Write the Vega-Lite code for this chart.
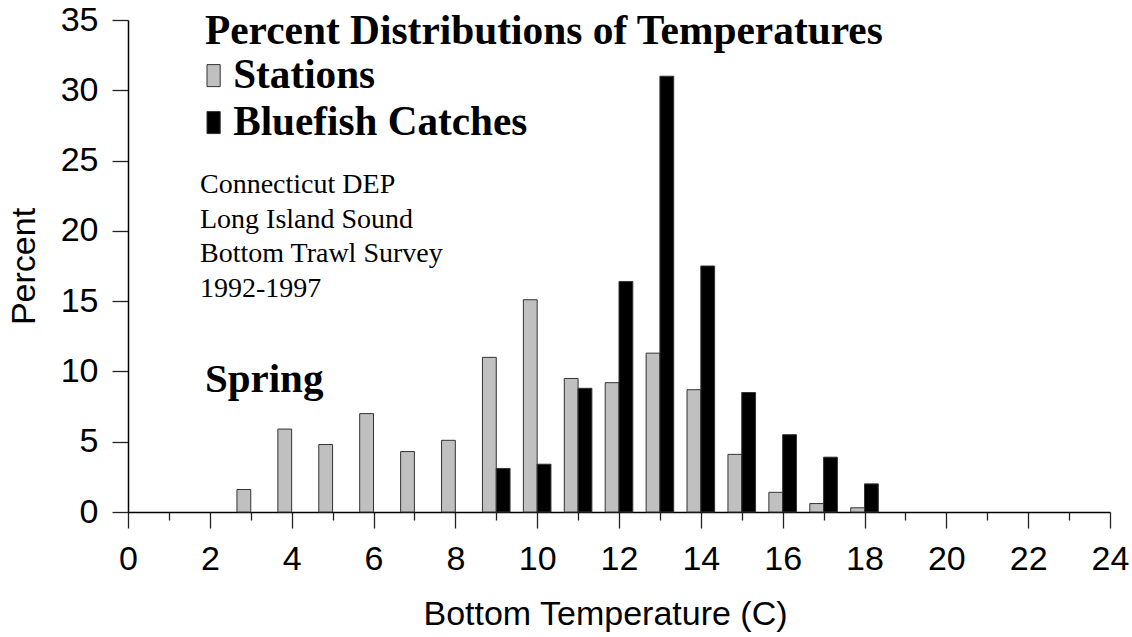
{
  "$schema": "https://vega.github.io/schema/vega-lite/v6.json",
  "width": 982,
  "height": 492,
  "autosize": {"type": "none"},
  "padding": {"left": 128, "top": 20, "right": 22, "bottom": 125},
  "background": "white",
  "config": {
    "view": {"stroke": null},
    "axis": {
      "grid": false,
      "domainColor": "#000000",
      "domainWidth": 1.5,
      "tickColor": "#222222",
      "tickWidth": 1.3,
      "labelFont": "Liberation Sans",
      "titleFont": "Liberation Sans",
      "labelColor": "#000000",
      "titleColor": "#000000",
      "labelFontSize": 34,
      "titleFontSize": 34,
      "titleFontWeight": "normal"
    }
  },
  "resolve": {"axis": {"x": "independent"}},
  "data": {
    "values": [
      {"temp": 3, "series": "Stations", "percent": 1.6},
      {"temp": 4, "series": "Stations", "percent": 5.9},
      {"temp": 5, "series": "Stations", "percent": 4.8},
      {"temp": 6, "series": "Stations", "percent": 7.0},
      {"temp": 7, "series": "Stations", "percent": 4.3},
      {"temp": 8, "series": "Stations", "percent": 5.1},
      {"temp": 9, "series": "Stations", "percent": 11.0},
      {"temp": 10, "series": "Stations", "percent": 15.1},
      {"temp": 11, "series": "Stations", "percent": 9.5},
      {"temp": 12, "series": "Stations", "percent": 9.2},
      {"temp": 13, "series": "Stations", "percent": 11.3},
      {"temp": 14, "series": "Stations", "percent": 8.7},
      {"temp": 15, "series": "Stations", "percent": 4.1},
      {"temp": 16, "series": "Stations", "percent": 1.4},
      {"temp": 17, "series": "Stations", "percent": 0.6},
      {"temp": 18, "series": "Stations", "percent": 0.3},
      {"temp": 9, "series": "Bluefish Catches", "percent": 3.1},
      {"temp": 10, "series": "Bluefish Catches", "percent": 3.4},
      {"temp": 11, "series": "Bluefish Catches", "percent": 8.8},
      {"temp": 12, "series": "Bluefish Catches", "percent": 16.4},
      {"temp": 13, "series": "Bluefish Catches", "percent": 31.0},
      {"temp": 14, "series": "Bluefish Catches", "percent": 17.5},
      {"temp": 15, "series": "Bluefish Catches", "percent": 8.5},
      {"temp": 16, "series": "Bluefish Catches", "percent": 5.5},
      {"temp": 17, "series": "Bluefish Catches", "percent": 3.9},
      {"temp": 18, "series": "Bluefish Catches", "percent": 2.0}
    ]
  },
  "layer": [
    {
      "transform": [{"filter": "datum.series === 'Stations'"}],
      "mark": {"type": "bar", "orient": "vertical", "width": 13.8, "xOffset": -6.9, "stroke": "#333333", "strokeWidth": 1},
      "encoding": {
        "x": {
          "field": "temp", "type": "quantitative",
          "scale": {"domain": [0, 24], "nice": false, "zero": false, "padding": 0},
          "axis": {
            "orient": "bottom",
            "values": [0, 2, 4, 6, 8, 10, 12, 14, 16, 18, 20, 22, 24],
            "tickSize": 16,
            "labelPadding": 14,
            "labelFlush": false,
            "labelOverlap": false,
            "title": "Bottom Temperature (C)",
            "titleX": 477,
            "titleAlign": "center",
            "titlePadding": 21
          }
        },
        "y": {
          "field": "percent", "type": "quantitative",
          "scale": {"domain": [0, 35], "nice": false, "padding": 0},
          "axis": {
            "values": [0, 5, 10, 15, 20, 25, 30, 35],
            "tickSize": 16,
            "labelPadding": 14,
            "labelFlush": false,
            "labelOverlap": false,
            "title": "Percent",
            "titlePadding": 19
          }
        },
        "color": {
          "datum": "Stations",
          "scale": {"domain": ["Stations", "Bluefish Catches"], "range": ["#c0c0c0", "#000000"]},
          "legend": {
            "orient": "none",
            "legendX": 65,
            "legendY": 35,
            "title": null,
            "symbolType": "M-0.6,-1H0.6V1H-0.6Z",
            "symbolSize": 484,
            "symbolStrokeColor": "#333333",
            "symbolStrokeWidth": 1,
            "labelFont": "Liberation Serif",
            "labelFontSize": 41.2,
            "labelFontWeight": "bold",
            "labelColor": "#000000",
            "labelOffset": -1,
            "rowPadding": 5,
            "labelLimit": 600
          }
        }
      }
    },
    {
      "transform": [{"filter": "datum.series === 'Bluefish Catches'"}],
      "mark": {"type": "bar", "orient": "vertical", "width": 13.8, "xOffset": 6.9, "stroke": "#333333", "strokeWidth": 1},
      "encoding": {
        "x": {"field": "temp", "type": "quantitative", "axis": null},
        "y": {"field": "percent", "type": "quantitative"},
        "color": {"datum": "Bluefish Catches"}
      }
    },
    {
      "data": {"values": [{"label": "Percent Distributions of Temperatures"}]},
      "mark": {"type": "text", "font": "Liberation Serif", "fontSize": 41.4, "fontWeight": "bold", "align": "left", "baseline": "alphabetic", "color": "#000000"},
      "encoding": {
        "x": {"datum": 1.88, "axis": null},
        "y": {"datum": 33.29},
        "text": {"field": "label"}
      }
    },
    {
      "data": {"values": [{"label": "Connecticut DEP\nLong Island Sound\nBottom Trawl Survey\n1992-1997"}]},
      "mark": {"type": "text", "font": "Liberation Serif", "fontSize": 28, "align": "left", "baseline": "alphabetic", "lineBreak": "\n", "lineHeight": 34.8, "color": "#000000"},
      "encoding": {
        "x": {"datum": 1.76, "axis": null},
        "y": {"datum": 22.7},
        "text": {"field": "label"}
      }
    },
    {
      "data": {"values": [{"label": "Spring"}]},
      "mark": {"type": "text", "font": "Liberation Serif", "fontSize": 41, "fontWeight": "bold", "align": "left", "baseline": "alphabetic", "color": "#000000"},
      "encoding": {
        "x": {
          "datum": 1.88, "type": "quantitative",
          "axis": {
            "orient": "bottom",
            "values": [1, 3, 5, 7, 9, 11, 13, 15, 17, 19, 21, 23],
            "tickSize": 8,
            "labels": false,
            "domain": false,
            "title": null
          }
        },
        "y": {"datum": 8.54},
        "text": {"field": "label"}
      }
    }
  ]
}
